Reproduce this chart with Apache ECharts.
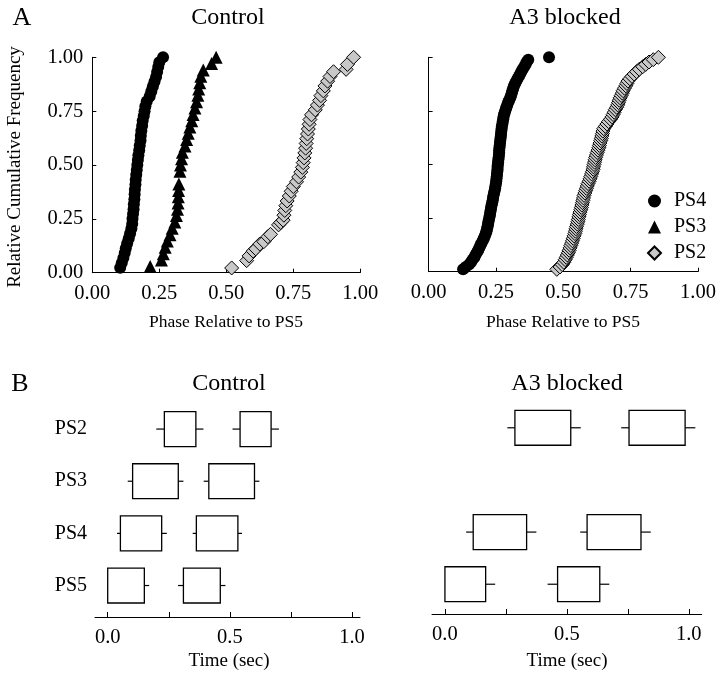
<!DOCTYPE html>
<html>
<head>
<meta charset="utf-8">
<script src="https://cdn.jsdelivr.net/npm/echarts@6/dist/echarts.min.js"></script>
<style>html,body{margin:0;padding:0;background:#fff}#c{width:720px;height:673px}</style>
</head>
<body>
<div id="c"></div>
<script>
// ---------- DATA ----------
const topTicks = [0, 0.25, 0.5, 0.75, 1];
const bottomTicks = [0, 0.25, 0.5, 0.75, 1];
const bottomLabels = [0, 0.5, 1];
const rowCategories = ['PS5', 'PS4', 'PS3', 'PS2'];
const legendNames = ['PS4', 'PS3', 'PS2'];

// Panel A, Control: [phase, cumulative frequency]
const ctrlPS4 = [[0.104,0.023],[0.110,0.045],[0.116,0.068],[0.121,0.091],[0.125,0.114],[0.130,0.136],[0.136,0.159],[0.141,0.182],[0.146,0.205],[0.149,0.227],[0.150,0.250],[0.152,0.273],[0.154,0.295],[0.155,0.318],[0.157,0.341],[0.158,0.364],[0.159,0.386],[0.161,0.409],[0.162,0.432],[0.164,0.455],[0.166,0.477],[0.168,0.500],[0.170,0.523],[0.172,0.545],[0.175,0.568],[0.177,0.591],[0.180,0.614],[0.181,0.636],[0.183,0.659],[0.186,0.682],[0.188,0.705],[0.192,0.727],[0.195,0.750],[0.198,0.773],[0.203,0.795],[0.214,0.818],[0.220,0.841],[0.226,0.864],[0.232,0.886],[0.238,0.909],[0.242,0.932],[0.246,0.955],[0.250,0.977],[0.264,1.000]];
const ctrlPS3 = [[0.216,0.029],[0.258,0.059],[0.265,0.088],[0.272,0.118],[0.280,0.147],[0.290,0.176],[0.298,0.206],[0.308,0.235],[0.314,0.265],[0.318,0.294],[0.320,0.324],[0.321,0.353],[0.322,0.382],[0.323,0.412],[0.327,0.471],[0.329,0.500],[0.333,0.529],[0.336,0.559],[0.346,0.588],[0.352,0.618],[0.358,0.647],[0.364,0.676],[0.371,0.706],[0.376,0.735],[0.383,0.765],[0.389,0.794],[0.394,0.824],[0.397,0.853],[0.401,0.882],[0.405,0.912],[0.414,0.941],[0.445,0.971],[0.462,1.000]];
const ctrlPS2 = [[0.520,0.022],[0.576,0.056],[0.585,0.078],[0.600,0.100],[0.610,0.111],[0.625,0.133],[0.640,0.144],[0.655,0.167],[0.665,0.178],[0.695,0.222],[0.703,0.233],[0.712,0.244],[0.715,0.267],[0.718,0.289],[0.722,0.311],[0.727,0.333],[0.735,0.356],[0.742,0.378],[0.750,0.400],[0.762,0.422],[0.770,0.444],[0.778,0.467],[0.784,0.489],[0.787,0.511],[0.790,0.533],[0.793,0.556],[0.796,0.578],[0.798,0.600],[0.800,0.622],[0.803,0.644],[0.806,0.667],[0.809,0.689],[0.812,0.711],[0.818,0.733],[0.832,0.756],[0.840,0.778],[0.848,0.800],[0.853,0.822],[0.862,0.844],[0.868,0.867],[0.878,0.889],[0.887,0.911],[0.900,0.933],[0.947,0.944],[0.952,0.967],[0.975,1.000]];

// Panel A, A3 blocked
const a3PS4 = [[0.128,0.011],[0.138,0.022],[0.150,0.033],[0.157,0.044],[0.163,0.056],[0.170,0.067],[0.174,0.078],[0.179,0.089],[0.184,0.100],[0.188,0.111],[0.192,0.122],[0.196,0.133],[0.201,0.144],[0.205,0.156],[0.209,0.167],[0.212,0.178],[0.215,0.189],[0.217,0.200],[0.219,0.211],[0.221,0.222],[0.222,0.233],[0.224,0.244],[0.226,0.256],[0.228,0.267],[0.229,0.278],[0.231,0.289],[0.232,0.300],[0.234,0.311],[0.236,0.322],[0.238,0.333],[0.239,0.344],[0.241,0.356],[0.243,0.367],[0.245,0.378],[0.247,0.389],[0.248,0.400],[0.250,0.411],[0.251,0.422],[0.252,0.433],[0.253,0.444],[0.254,0.456],[0.255,0.467],[0.256,0.478],[0.256,0.489],[0.257,0.500],[0.258,0.511],[0.259,0.522],[0.260,0.533],[0.261,0.544],[0.262,0.556],[0.262,0.567],[0.263,0.578],[0.264,0.589],[0.265,0.600],[0.266,0.611],[0.267,0.622],[0.268,0.633],[0.269,0.644],[0.270,0.656],[0.271,0.667],[0.272,0.678],[0.274,0.689],[0.275,0.700],[0.277,0.711],[0.278,0.722],[0.280,0.733],[0.283,0.744],[0.286,0.756],[0.289,0.767],[0.292,0.778],[0.295,0.789],[0.299,0.800],[0.303,0.811],[0.306,0.822],[0.309,0.833],[0.311,0.844],[0.314,0.856],[0.317,0.867],[0.321,0.878],[0.326,0.889],[0.330,0.900],[0.335,0.911],[0.340,0.922],[0.344,0.933],[0.349,0.944],[0.355,0.956],[0.360,0.967],[0.364,0.978],[0.370,0.989],[0.447,1.000]];
const a3PS2 = [[0.476,0.011],[0.488,0.022],[0.496,0.033],[0.502,0.044],[0.507,0.056],[0.511,0.067],[0.515,0.078],[0.519,0.089],[0.522,0.100],[0.525,0.111],[0.528,0.122],[0.531,0.133],[0.534,0.144],[0.537,0.156],[0.540,0.167],[0.543,0.178],[0.545,0.189],[0.547,0.200],[0.549,0.211],[0.552,0.222],[0.554,0.233],[0.556,0.244],[0.558,0.256],[0.560,0.267],[0.562,0.278],[0.565,0.289],[0.567,0.300],[0.569,0.311],[0.571,0.322],[0.573,0.333],[0.575,0.344],[0.577,0.356],[0.580,0.367],[0.583,0.378],[0.586,0.389],[0.589,0.400],[0.592,0.411],[0.596,0.422],[0.599,0.433],[0.602,0.444],[0.605,0.456],[0.608,0.467],[0.611,0.478],[0.612,0.489],[0.614,0.500],[0.616,0.511],[0.618,0.522],[0.620,0.533],[0.623,0.544],[0.626,0.556],[0.629,0.567],[0.632,0.578],[0.634,0.589],[0.636,0.600],[0.639,0.611],[0.641,0.622],[0.643,0.633],[0.645,0.644],[0.647,0.656],[0.650,0.667],[0.656,0.678],[0.662,0.689],[0.668,0.700],[0.675,0.711],[0.681,0.722],[0.685,0.733],[0.689,0.744],[0.693,0.756],[0.698,0.767],[0.702,0.778],[0.705,0.789],[0.708,0.800],[0.711,0.811],[0.715,0.822],[0.719,0.833],[0.722,0.844],[0.727,0.856],[0.732,0.867],[0.736,0.878],[0.740,0.889],[0.747,0.900],[0.755,0.911],[0.763,0.922],[0.772,0.933],[0.782,0.944],[0.795,0.956],[0.806,0.967],[0.818,0.978],[0.834,0.989],[0.853,1.000]];

// Panel B: [row, whiskerLow, boxLow, boxHigh, whiskerHigh] (sec)
const ctrlBoxes = [
  ['PS2', 0.199, 0.232, 0.361, 0.392],
  ['PS2', 0.511, 0.542, 0.669, 0.701],
  ['PS3', 0.082, 0.102, 0.289, 0.310],
  ['PS3', 0.393, 0.414, 0.601, 0.621],
  ['PS4', 0.038, 0.052, 0.221, 0.242],
  ['PS4', 0.348, 0.363, 0.533, 0.550],
  ['PS5', 0.000, 0.000, 0.150, 0.170],
  ['PS5', 0.288, 0.310, 0.461, 0.482]
];
const a3Boxes = [
  ['PS2', 0.256, 0.287, 0.516, 0.557],
  ['PS2', 0.723, 0.755, 0.985, 1.027],
  ['PS4', 0.087, 0.116, 0.335, 0.375],
  ['PS4', 0.555, 0.583, 0.804, 0.844],
  ['PS5', 0.000, 0.000, 0.167, 0.206],
  ['PS5', 0.421, 0.462, 0.635, 0.674]
];

// ---------- CHART ----------
const FONT = '"Liberation Serif", "Times New Roman", Times, serif';
const chart = echarts.init(document.getElementById('c'), null, {renderer: 'canvas'});
const black = '#000';

function topX(grid) {
  return {
    gridIndex: grid, type: 'value', min: 0, max: 1, interval: 0.25,
    axisLine: {show: true, lineStyle: {color: black, width: 1}},
    axisTick: {show: true, inside: true, length: 4, lineStyle: {color: black}},
    axisLabel: {color: black, fontSize: 20.5, fontFamily: FONT, margin: 10, formatter: v => v.toFixed(2)},
    splitLine: {show: false}
  };
}
function topY(grid, showLabel) {
  return {
    gridIndex: grid, type: 'value', min: 0, max: 1, interval: 0.25,
    axisLine: {show: true, lineStyle: {color: black, width: 1}},
    axisTick: {show: true, inside: true, length: 4, lineStyle: {color: black}},
    axisLabel: {show: showLabel, color: black, fontSize: 20.5, fontFamily: FONT, margin: 9, formatter: v => v.toFixed(2)},
    splitLine: {show: false}
  };
}
function botX(grid, min, max, offset) {
  return {
    gridIndex: grid, type: 'value', min: min, max: max, offset: offset,
    axisLine: {show: true, lineStyle: {color: black, width: 1}},
    axisTick: {show: true, inside: true, length: 5, customValues: bottomTicks, lineStyle: {color: black}},
    axisLabel: {color: black, fontSize: 20.5, fontFamily: FONT, margin: 10, customValues: bottomLabels, formatter: v => v.toFixed(1)},
    splitLine: {show: false}
  };
}
function botY(grid, showLabel) {
  return {
    gridIndex: grid, type: 'category', data: rowCategories,
    axisLine: {show: false}, axisTick: {show: false}, splitLine: {show: false},
    axisLabel: {show: showLabel, color: black, fontSize: 20, fontFamily: FONT, margin: 8}
  };
}
function boxRender(params, api) {
  const y = api.value(0);
  const a = api.coord([api.value(1), y]);
  const b = api.coord([api.value(2), y]);
  const c = api.coord([api.value(3), y]);
  const d = api.coord([api.value(4), y]);
  const h = api.size([0, 1])[1] * 0.67;
  const ls = {stroke: black, lineWidth: 1.2};
  return {
    type: 'group',
    children: [
      {type: 'line', shape: {x1: a[0], y1: a[1], x2: b[0], y2: b[1]}, style: ls},
      {type: 'line', shape: {x1: c[0], y1: c[1], x2: d[0], y2: d[1]}, style: ls},
      {type: 'rect', shape: {x: b[0], y: b[1] - h / 2, width: c[0] - b[0], height: h}, style: {fill: '#fff', stroke: black, lineWidth: 1.3}}
    ]
  };
}
const circleStyle = {symbol: 'circle', symbolSize: 12, itemStyle: {color: black, opacity: 1}};
const triStyle = {symbol: 'triangle', symbolSize: 13, itemStyle: {color: black, opacity: 1}};
const diaStyle = {symbol: 'diamond', symbolSize: [14, 14], itemStyle: {color: '#c8c8c8', borderColor: black, borderWidth: 1, opacity: 1}};

function txt(x, y, text, size, extra) {
  return Object.assign({
    type: 'text', x: x, y: y,
    style: {text: text, fill: black, font: size + 'px ' + FONT, textAlign: 'center', textVerticalAlign: 'middle'}
  }, extra || {});
}

const option = {
  animation: false,
  backgroundColor: '#fff',
  grid: [
    {left: 92.3, top: 57.3, width: 268, height: 215.4},
    {left: 428.6, top: 57.3, width: 269.4, height: 214.4},
    {left: 95, top: 403, width: 265, height: 208.6},
    {left: 432, top: 401.7, width: 269.7, height: 208.6}
  ],
  xAxis: [topX(0), topX(1), botX(2, -0.052, 1.033, 5.4), botX(3, -0.053, 1.053, 3.7)],
  yAxis: [topY(0, true), topY(1, false), botY(2, true), botY(3, false)],
  legend: {
    data: legendNames, orient: 'vertical', left: 642, top: 186,
    itemWidth: 13, itemHeight: 13, itemGap: 6,
    textStyle: {color: black, fontSize: 20, fontFamily: FONT, padding: [0, 0, 0, 8]},
    selectedMode: false
  },
  series: [
    Object.assign({type: 'scatter', name: 'PS4', xAxisIndex: 0, yAxisIndex: 0, data: ctrlPS4, silent: true}, circleStyle),
    Object.assign({type: 'scatter', name: 'PS3', xAxisIndex: 0, yAxisIndex: 0, data: ctrlPS3, silent: true}, triStyle),
    Object.assign({type: 'scatter', name: 'PS2', xAxisIndex: 0, yAxisIndex: 0, data: ctrlPS2, silent: true}, diaStyle),
    Object.assign({type: 'scatter', name: 'PS4', xAxisIndex: 1, yAxisIndex: 1, data: a3PS4, silent: true}, circleStyle),
    Object.assign({type: 'scatter', name: 'PS2', xAxisIndex: 1, yAxisIndex: 1, data: a3PS2, silent: true}, diaStyle),
    {type: 'custom', name: 'ctrlBoxes', xAxisIndex: 2, yAxisIndex: 2, data: ctrlBoxes, renderItem: boxRender, encode: {x: [1, 2, 3, 4], y: 0}, silent: true},
    {type: 'custom', name: 'a3Boxes', xAxisIndex: 3, yAxisIndex: 3, data: a3Boxes, renderItem: boxRender, encode: {x: [1, 2, 3, 4], y: 0}, silent: true}
  ],
  graphic: [
    txt(22, 18, 'A', 26),
    txt(228, 18, 'Control', 24),
    txt(565, 18, 'A3 blocked', 24),
    txt(15, 167, 'Relative Cumulative Frequency', 19, {rotation: Math.PI / 2}),
    txt(226, 322, 'Phase Relative to PS5', 17.5),
    txt(563, 322, 'Phase Relative to PS5', 17.5),
    txt(20, 384, 'B', 26),
    txt(229, 384, 'Control', 24),
    txt(567, 384, 'A3 blocked', 24),
    txt(229, 661, 'Time (sec)', 19),
    txt(567, 661, 'Time (sec)', 19)
  ]
};
chart.setOption(option);
</script>
</body>
</html>
